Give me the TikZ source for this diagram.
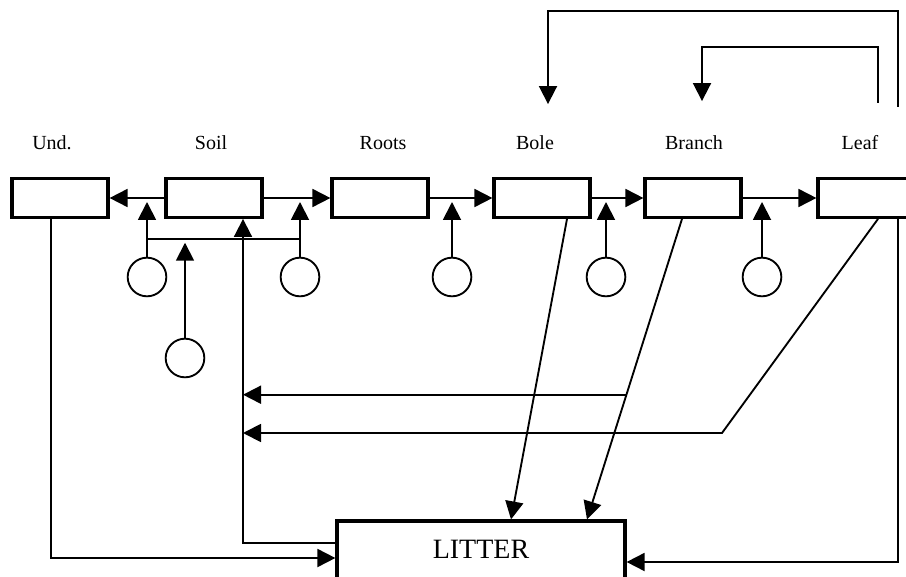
\documentclass[tikz,border=0pt]{standalone}
\usepackage{fontspec}
\setmainfont{Liberation Serif}
\usetikzlibrary{arrows.meta, calc, positioning}

\tikzset{
	pool/.style={draw, line width=2.4pt, minimum width=72pt, minimum height=29pt, inner sep=0pt},
	src/.style={draw, circle, line width=1.4pt, minimum size=29pt, inner sep=0pt},
	link/.style={line width=1.4pt},
	flow/.style={link, -{Triangle[length=13.5pt, width=13.5pt]}},
	tag/.style={font=\fontsize{15}{17}\selectfont}
}

\begin{document}
\begin{tikzpicture}[x=0.75pt, y=-0.75pt]
	\useasboundingbox (0,0) rectangle (906,577);
	\clip (0,0) rectangle (906,577);
	% pools
	\node[pool] (und) at (60,198) {};
	\node[pool] (soil) at (214,198) {};
	\node[pool] (roots) at (380,198) {};
	\node[pool] (bole) at (542,198) {};
	\node[pool] (branch) at (693,198) {};
	\node[pool] (leaf) at (866,198) {};
	\node[pool, minimum width=216pt, minimum height=48pt, text depth=5pt,
		font=\fontsize{21}{24}\selectfont] (litter) at (481,553) {LITTER};
	% labels
	\node[tag] (lund) at (52,143) {Und.};
	\node[tag] (lsoil) at (211,143) {Soil};
	\node[tag] (lroots) at (383,143) {Roots};
	\node[tag] (lbole) at (535,143) {Bole};
	\node[tag] (lbranch) at (694,143) {Branch};
	\node[tag] (lleaf) at (860,143) {Leaf};
	% sources
	\node[src] (c1) at (147,277) {};
	\node[src] (c2) at (300,277) {};
	\node[src] (c3) at (452,277) {};
	\node[src] (c4) at (606,277) {};
	\node[src] (c5) at (762,277) {};
	\node[src] (c6) at (185,358) {};
	% transfers along the chain
	\draw[flow] (soil.west) -- (und.east);
	\draw[flow] (soil.east) -- (roots.west);
	\draw[flow] (roots.east) -- (bole.west);
	\draw[flow] (bole.east) -- (branch.west);
	\draw[flow] (branch.east) -- (leaf.west);
	% inputs from sources
	\draw[flow] (c1.north) -- ($(c1 |- soil.west)+(0,4)$);
	\draw[flow] (c2.north) -- ($(c2 |- soil.east)+(0,4)$);
	\draw[flow] (c3.north) -- ($(c3 |- roots.east)+(0,4)$);
	\draw[flow] (c4.north) -- ($(c4 |- bole.east)+(0,4)$);
	\draw[flow] (c5.north) -- ($(c5 |- branch.east)+(0,4)$);
	\coordinate (jl) at ($(c1.north)+(0,-18)$);
	\coordinate (jr) at ($(c2.north)+(0,-18)$);
	\draw[link] (jl) -- (jr);
	\draw[flow] (c6.north) -- ($(c6 |- jl)+(0,4)$);
	% litter fall
	\coordinate (soilin) at ($(soil.south)+(29,0)$);
	\draw[flow] ($(und.south)+(-9,0)$) |- ($(litter.west)+(0,5)$);
	\draw[flow] ($(litter.west)+(0,-10)$) -| (soilin);
	\draw[flow] ($(bole.south)+(25,0)$) -- ($(litter.north)+(30,0)$);
	\coordinate (brtop) at ($(branch.south)+(-11,0)$);
	\coordinate (brbot) at ($(litter.north)+(106,0)$);
	\coordinate (brmid) at ($(brtop)!0.585!(brbot)$);
	\draw[flow] (brtop) -- (brbot);
	\draw[flow] (brmid) -- (brmid -| soilin);
	\coordinate (leafbend) at (722,433);
	\draw[flow] ($(leaf.south)+(12,0)$) -- (leafbend) -- (leafbend -| soilin);
	\draw[flow] ($(leaf.south)+(32,0)$) |- ($(litter.east)+(0,9)$);
	% feedback to bole and branch
	\coordinate (fbo) at (898,107);
	\coordinate (fbi) at (878,103);
	\draw[flow] (fbo) -- ++(0,-96) -| ($(bole.north)+(6,-73)$);
	\draw[flow] (fbi) -- ++(0,-56) -| ($(branch.north)+(9,-76)$);
\end{tikzpicture}
\end{document}
